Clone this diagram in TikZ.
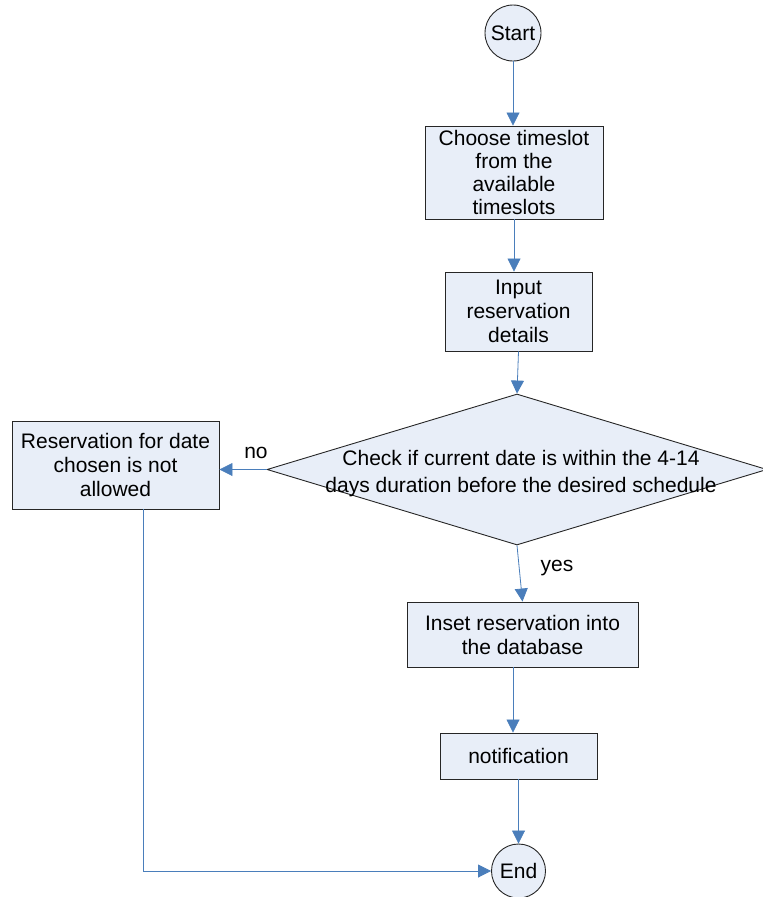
\documentclass[tikz,border=0pt]{standalone}
\usepackage{fontspec}
\setmainfont{Liberation Sans}
\usetikzlibrary{shapes.geometric,arrows.meta,calc}
\definecolor{boxfill}{HTML}{E8EEF8}
\definecolor{arrblue}{HTML}{4A7EBB}
\begin{document}
\begin{tikzpicture}[x=1pt,y=-1pt,
  every node/.style={font=\fontsize{21}{24}\selectfont},
  procbox/.style={draw=black!85,line width=0.9pt,fill=boxfill,rectangle,inner sep=0pt,align=center},
  termnode/.style={draw=black!85,line width=0.9pt,fill=boxfill,circle,inner sep=0pt},
  decision/.style={draw=black!85,line width=0.9pt,fill=boxfill,diamond,inner sep=0pt},
  arr/.style={draw=arrblue,line width=0.8pt,-{Triangle[width=13pt,length=13pt]}},
  lbl/.style={inner sep=0pt}]
\useasboundingbox (0,0) rectangle (763,897);
\node[termnode,minimum size=56pt] (start) at (513,33) {Start};
\node[procbox,minimum width=178pt,minimum height=93pt,font=\fontsize{21}{23.3}\selectfont] (b1) at (514,172.5) {Choose timeslot\\from the\\available\\timeslots};
\node[procbox,minimum width=147pt,minimum height=79pt] (b2) at (518.5,311.5) {Input\\reservation\\details};
\node[decision,minimum width=500pt,minimum height=151pt] (d) at (517,469.5) {};
\node[lbl,align=center,font=\fontsize{21}{27}\selectfont] (dt) at (521,474) {Check if current date is within the 4-14\\days duration before the desired schedule};
\node[procbox,minimum width=207pt,minimum height=88pt] (nogo) at (115.5,465) {Reservation for date\\chosen is not\\allowed};
\node[procbox,minimum width=231pt,minimum height=65pt] (b3) at (522.5,634.5) {Inset reservation into\\the database};
\node[procbox,minimum width=157pt,minimum height=46pt] (notif) at (518.5,756) {notification};
\node[termnode,minimum size=54pt] (end) at (518.5,871) {End};
\node[lbl] (no) at (256,453) {no};
\node[lbl] (yes) at (557,568) {yes};
\coordinate (c1) at (513,0);
\coordinate (c2) at (143,0);
\draw[arr] (start.south) -- (start.south |- b1.north);
\draw[arr] (b1.south) -- (b1.south |- b2.north);
\draw[arr] (b2.south) -- (d.north);
\draw[arr] (d.west) -- (d.west -| nogo.east);
\draw[arr] (d.south) -- (b3.north);
\draw[arr] (b3.south -| c1) -- (notif.north -| c1);
\draw[arr] (notif.south) -- (end.north);
\draw[arr] (nogo.south -| c2) |- (end.west);
\end{tikzpicture}
\end{document}
